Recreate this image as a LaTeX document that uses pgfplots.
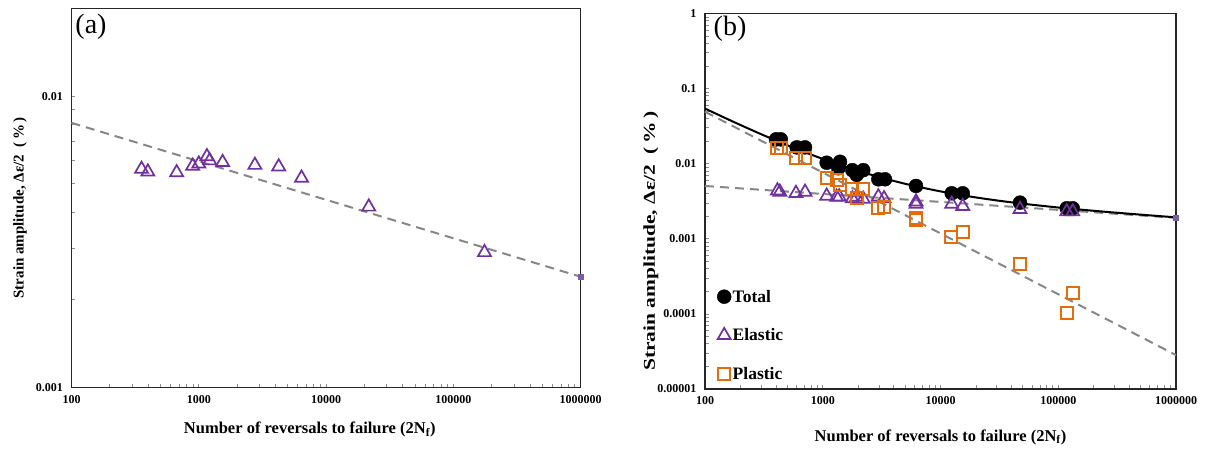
\documentclass[border=0pt]{standalone}
\usepackage{fontspec}
\setmainfont{Liberation Serif}
\usepackage{graphicx}
\usepackage{pgfplots}
\pgfplotsset{compat=1.18}
\definecolor{epurple}{HTML}{7030A0}
\definecolor{porange}{HTML}{E46C0A}
\definecolor{dgray}{HTML}{878787}
\definecolor{endmark}{HTML}{7A5FA0}
\tikzset{myfit/.style={dgray, line width=2pt, dash pattern=on 9pt off 6pt}}
\newcommand{\ylabtext}{Strain amplitude, Δε/2 \ (\,\%\,)}

\begin{document}
\begin{tikzpicture}
\useasboundingbox (0pt,0pt) rectangle (1205pt,449pt);

% ---------------- panel (a) ----------------
\begin{axis}[
  xmode=log, ymode=log, scale only axis,
  at={(71.5pt,61.5pt)}, anchor=south west,
  width=509.2pt, height=379pt,
  xmin=100, xmax=1000000,
  ymin=0.001, ymax=0.02,
  xtick={100,1000,10000,100000,1000000},
  xticklabels={100,1000,10000,100000,1000000},
  minor xtick={200,300,400,500,600,700,800,900,2000,3000,4000,5000,6000,7000,8000,9000,20000,30000,40000,50000,60000,70000,80000,90000,200000,300000,400000,500000,600000,700000,800000,900000},
  ytick={0.001,0.01}, yticklabels={0.001,0.01},
  minor ytick={0.002,0.003,0.004,0.005,0.006,0.007,0.008,0.009},
  tick align=inside, xtick pos=bottom, ytick pos=left,
  major tick length=4pt, minor tick length=4pt,
  tick style={black!45, line width=0.8pt},
  axis line style={black!85, line width=1.3pt},
  tick label style={font=\fontsize{12}{14}\selectfont\bfseries},
  xticklabel style={yshift=-4pt},
  yticklabel style={xshift=-5pt},
  xlabel={Number of reversals to failure (2N\textsubscript{f})},
  xlabel style={font=\fontsize{16.5}{18}\selectfont\bfseries, anchor=center, at={(axis description cs:0.468,0)}, yshift=-42pt},
  ylabel={\ylabtext},
  ylabel style={font=\fontsize{15}{17}\selectfont\bfseries, anchor=center, at={(axis description cs:-0.101,0.474)}},
  clip=false,
]
\addplot[myfit, forget plot] coordinates {(100,0.0081) (1000000,0.0024)};
\addplot[only marks, mark=square*, mark size=2.5pt, endmark, forget plot] coordinates {(1000000,0.0024)};
\addplot[only marks, mark=triangle, mark size=7.5pt, epurple, line width=1.7pt] coordinates {
(355,0.00562) (398,0.00550) (670,0.00547) (895,0.00576) (1000,0.00586)
(1158,0.00621) (1218,0.00601) (1538,0.00593) (2758,0.00580) (4243,0.00573)
(6412,0.00524) (21640,0.00417) (175500,0.00291)};
\end{axis}

% ---------------- panel (b) ----------------
\begin{axis}[
  xmode=log, ymode=log, scale only axis,
  at={(705pt,60pt)}, anchor=south west,
  width=471pt, height=375.5pt,
  xmin=100, xmax=1000000,
  ymin=0.00001, ymax=1,
  xtick={100,1000,10000,100000,1000000},
  xticklabels={100,1000,10000,100000,1000000},
  minor xtick={200,300,400,500,600,700,800,900,2000,3000,4000,5000,6000,7000,8000,9000,20000,30000,40000,50000,60000,70000,80000,90000,200000,300000,400000,500000,600000,700000,800000,900000},
  ytick={0.00001,0.0001,0.001,0.01,0.1,1},
  yticklabels={0.00001,0.0001,0.001,0.01,0.1,1},
  minor ytick={0.00002,0.00003,0.00004,0.00005,0.00006,0.00007,0.00008,0.00009,
               0.0002,0.0003,0.0004,0.0005,0.0006,0.0007,0.0008,0.0009,
               0.002,0.003,0.004,0.005,0.006,0.007,0.008,0.009,
               0.02,0.03,0.04,0.05,0.06,0.07,0.08,0.09,
               0.2,0.3,0.4,0.5,0.6,0.7,0.8,0.9},
  tick align=inside, xtick pos=bottom, ytick pos=left,
  major tick length=4pt, minor tick length=4pt,
  tick style={black!45, line width=0.8pt},
  axis line style={black!85, line width=1.3pt},
  tick label style={font=\fontsize{12}{14}\selectfont\bfseries},
  xticklabel style={yshift=-4pt},
  yticklabel style={xshift=-5pt},
  xlabel={Number of reversals to failure (2N\textsubscript{f})},
  xlabel style={font=\fontsize{16.5}{18}\selectfont\bfseries, anchor=center, at={(axis description cs:0.5,0)}, yshift=-48pt},
  ylabel={\scalebox{1.3}[1]{\ylabtext}},
  ylabel style={font=\fontsize{16.5}{18}\selectfont\bfseries, anchor=center, at={(axis description cs:-0.115,0.394)}},
  clip=false,
  legend style={at={(axis description cs:0,0)}, anchor=south west,
    draw=none, fill=none, row sep=21pt, inner xsep=12pt, inner ysep=6pt,
    font=\fontsize{17.5}{19}\selectfont\bfseries,
    nodes={inner xsep=1.5pt}},
  legend cell align=left,
  legend image code/.code={\draw[#1] plot coordinates {(0pt,0pt)};},
]
% fitted lines
\addplot[myfit, forget plot] coordinates {(100,0.0492) (1000000,0.0000283)};
\addplot[myfit, forget plot] coordinates {(100,0.00505) (1000000,0.00190)};
\addplot[only marks, mark=square*, mark size=2.5pt, endmark, forget plot] coordinates {(1000000,0.00190)};
\addplot[black, line width=2pt, smooth, forget plot] coordinates {
(100,0.05425) (177.8,0.03561) (316.2,0.02383) (562.3,0.01635) (1000,0.01158)
(1778,0.008502) (3162,0.006501) (5623,0.005175) (10000,0.004280) (17783,0.003656)
(31623,0.003208) (56234,0.002873) (100000,0.002611) (177828,0.002399)
(316228,0.002221) (562341,0.002067) (1000000,0.001930)};
% data
\addplot[only marks, mark=*, mark size=7pt, black] coordinates {
(401,0.0211) (440,0.0211) (601,0.0165) (707,0.0165) (1080,0.0103) (1401,0.0106)
(1356,0.0087) (1782,0.0082) (1942,0.0071) (2208,0.0082) (2965,0.0062) (3378,0.0062)
(6194,0.00505) (12450,0.00404) (15450,0.00404) (47320,0.00303) (118000,0.00255)
(132700,0.00255)};
\addlegendentry{Total}
\addplot[only marks, mark=triangle, mark size=7.5pt, epurple, line width=1.7pt] coordinates {
(412,0.00437) (432,0.0042) (592,0.00404) (707,0.0042) (1080,0.00372) (1310,0.00359)
(1380,0.00364) (1782,0.00344) (1942,0.0036) (2208,0.00339) (2965,0.00364)
(3316,0.00344) (6194,0.00312) (6194,0.0029) (12450,0.00291) (15450,0.00272)
(47320,0.00247) (118000,0.0023) (132700,0.0023)};
\addlegendentry{Elastic}
\addplot[only marks, mark=square, mark size=6pt, porange, line width=2pt] coordinates {
(412,0.0160) (440,0.0160) (592,0.0118) (707,0.0118) (1080,0.0064) (1330,0.0061)
(1400,0.0052) (1782,0.00456) (1942,0.00346) (2208,0.00456) (2965,0.00255)
(3316,0.00263) (6194,0.00187) (6194,0.00178) (12200,0.00105) (15450,0.00124)
(47320,0.000462) (132700,0.000188) (118000,0.000104)};
\addlegendentry{Plastic}
\end{axis}

\node[font=\fontsize{28}{30}\selectfont] at (91pt,422pt) {(a)};
\node[font=\fontsize{28}{30}\selectfont] at (730pt,420pt) {(b)};
\end{tikzpicture}
\end{document}
